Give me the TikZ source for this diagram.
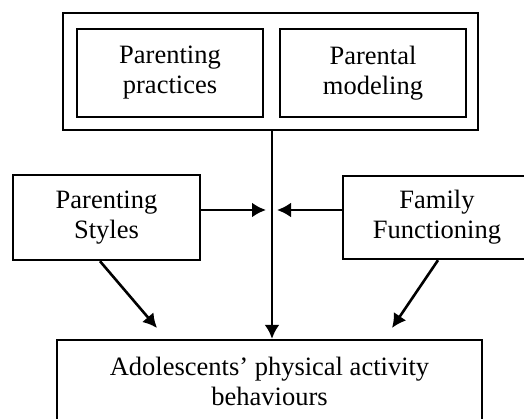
\documentclass[tikz,border=0pt]{standalone}
\usepackage{fontspec}
\setmainfont{Liberation Serif}
\usetikzlibrary{arrows.meta}

\begin{document}
\begin{tikzpicture}
[x=1pt,y=-1pt,
  boxDecorate/.style={draw,line width=2.4pt,align=center,inner sep=0pt,%
    font=\fontsize{26.5}{30}\selectfont},
  arrowDecorate/.style={-{Latex[length=14pt,width=15pt]},line width=2.6pt}]
\clip (0,0) rectangle (524,419);
\fill[white] (0,0) rectangle (524,419);
%% outer frame
\node (frame) at (270.5,71.5) [draw,line width=2.2pt,minimum width=415pt,
  minimum height=117pt,inner sep=0pt] {};
%% boxes
\foreach \nodename/\x/\y/\w/\h/\txt in {
  practices/170/73/186/88/{Parenting\\practices},
  modeling/373/73/186/88/{Parental\\modeling},
  styles/106.5/217.5/187/85/{Parenting\\Styles},
  functioning/437/217.5/188/83/{Family\\Functioning},
  behaviours/269.5/381.5/425/83/{Adolescents' physical activity\\behaviours}}
{
  \node (\nodename) at (\x,\y) [boxDecorate,minimum width=\w pt,minimum height=\h pt] {\txt};
}
%% free ends
\coordinate (leftTip) at (266,210);
\coordinate (rightTip) at (277,210);
\coordinate (leftEnd) at (157,328);
\coordinate (rightEnd) at (392,328);
%% arrows
\draw[arrowDecorate] ([xshift=1.5pt]frame.south) -- ([xshift=2.5pt]behaviours.north);
\draw[arrowDecorate] (styles.east |- leftTip) -- (leftTip);
\draw[arrowDecorate] (functioning.west |- rightTip) -- (rightTip);
\draw[arrowDecorate] ([xshift=-6.5pt]styles.south) -- (leftEnd);
\draw[arrowDecorate] ([xshift=1pt]functioning.south) -- (rightEnd);
\end{tikzpicture}
\end{document}
